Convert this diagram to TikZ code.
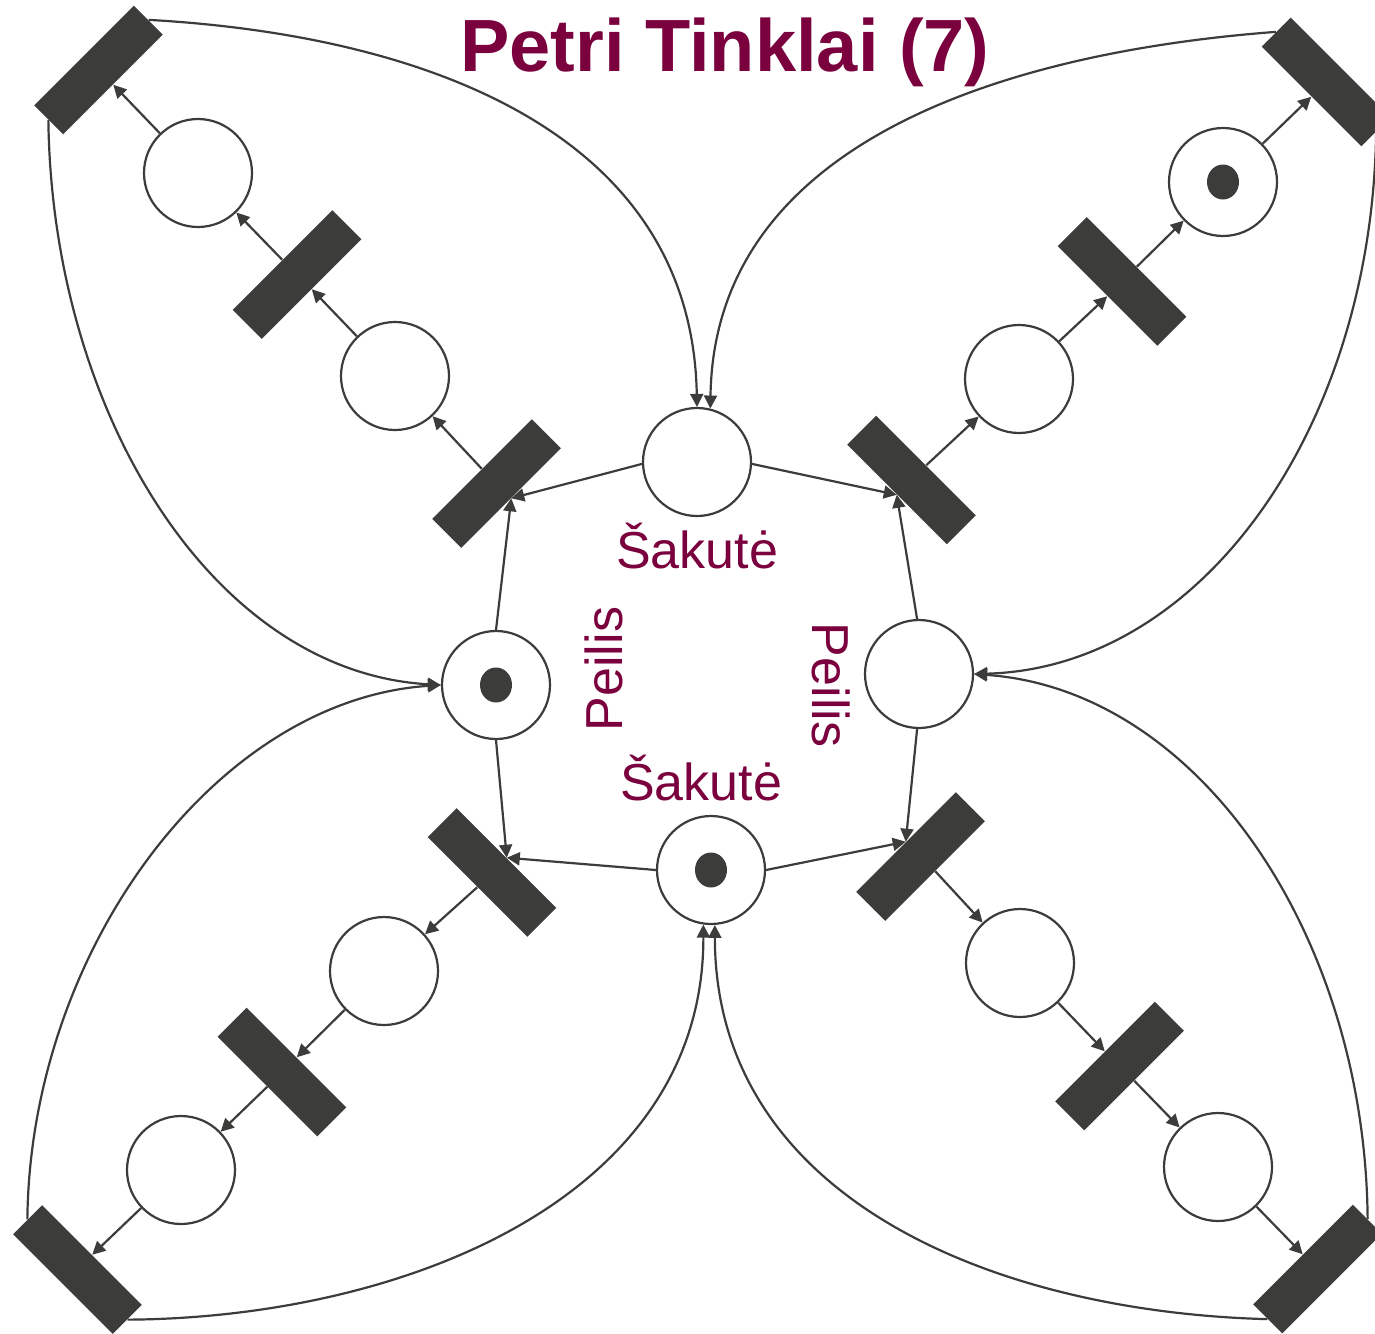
\documentclass[tikz,border=0pt]{standalone}
\usepackage{fontspec}
\setmainfont{Liberation Sans}
\usetikzlibrary{arrows.meta,calc}
\definecolor{ink}{RGB}{60,60,59}
\definecolor{wine}{RGB}{122,0,62}
\begin{document}
\begin{tikzpicture}[x=0.5pt,y=-0.5pt,
  place/.style={circle,draw=ink,line width=1.1pt,minimum size=54pt,inner sep=0pt,fill=white},
  trans/.style={rectangle,fill=ink,minimum width=70.5pt,minimum height=20.5pt,inner sep=0pt},
  arc/.style={draw=ink,line width=1.1pt,-{Triangle[length=6.5pt,width=6.5pt]}},
  lbl/.style={text=wine,font=\fontsize{26}{30}\selectfont,inner sep=0pt},
  tok/.style={fill=ink}]
\useasboundingbox[fill=white] (0,0) rectangle (1375,1333);

% title
\node[text=wine,font=\fontsize{37}{40}\selectfont\bfseries,anchor=base,inner sep=0pt] (title) at (725,71) {Petri Tinklai (7)};

% central places
\node[place] (Ptop) at (697,462) {};
\node[place] (Pleft) at (496,685) {};
\node[place] (Pright) at (919,674) {};
\node[place] (Pbot) at (711,870) {};

% branch places
\node[place] (A1) at (395,376) {};
\node[place] (A2) at (198,173) {};
\node[place] (B1) at (1019,379) {};
\node[place] (B2) at (1223,182) {};
\node[place] (C1) at (384,971) {};
\node[place] (C2) at (181,1170) {};
\node[place] (D1) at (1020,963) {};
\node[place] (D2) at (1218,1167) {};

% transitions
\node[trans,rotate=45] (T1) at (496.5,483.5) {};
\node[trans,rotate=45] (T2) at (297,274.5) {};
\node[trans,rotate=45] (T3) at (98.5,70) {};
\node[trans,rotate=-45] (T4) at (911.5,480) {};
\node[trans,rotate=-45] (T5) at (1122,281.5) {};
\node[trans,rotate=-45] (T6) at (1326,82) {};
\node[trans,rotate=-45] (T7) at (492,872.5) {};
\node[trans,rotate=-45] (T8) at (282,1072) {};
\node[trans,rotate=-45] (T9) at (77.5,1269.5) {};
\node[trans,rotate=45] (T10) at (920.5,856.5) {};
\node[trans,rotate=45] (T11) at (1119.5,1066) {};
\node[trans,rotate=45] (T12) at (1317.5,1269) {};

% tokens
\fill[tok] (Pleft) ellipse [x radius=8pt,y radius=8.75pt];
\fill[tok] (Pbot) ellipse [x radius=8pt,y radius=8.75pt];
\fill[tok] (B2) ellipse [x radius=8pt,y radius=8.75pt];

% central arcs
\draw[arc] (Ptop.182) -- (T1.south);
\draw[arc] (Pleft.90) -- (T1.south);
\draw[arc] (Ptop.358) -- (T4.south);
\draw[arc] (Pright.92) -- (T4.south);
\draw[arc] (Pleft.270) -- (T7.north);
\draw[arc] (Pbot.180) -- (T7.north);
\draw[arc] (Pright.268) -- (T10.north);
\draw[arc] (Pbot.0) -- (T10.north);

% branch arcs
\draw[arc] (T1.north) -- (A1);
\draw[arc] (A1) -- (T2.south);
\draw[arc] (T2.north) -- (A2);
\draw[arc] (A2) -- (T3.south);

\draw[arc] (T4.north) -- (B1);
\draw[arc] (B1) -- (T5.south);
\draw[arc] (T5.north) -- (B2);
\draw[arc] (B2) -- (T6.south);

\draw[arc] (T7.south) -- (C1);
\draw[arc] (C1) -- (T8.north);
\draw[arc] (T8.south) -- (C2);
\draw[arc] (C2) -- (T9.north);

\draw[arc] (T10.south) -- (D1);
\draw[arc] (D1) -- (T11.north);
\draw[arc] (T11.south) -- (D2);
\draw[arc] (D2) -- (T12.north);

% outer return arcs
\draw[arc] (T3.east) .. controls (420,35) and (692,130) .. (Ptop.90);
\draw[arc] (T6.west) .. controls (1010,52) and (714,140) .. (Ptop.76);
\draw[arc] (T3.west) .. controls (52,410) and (211,672) .. (Pleft.west);
\draw[arc] (T9.west) .. controls (30,952) and (215,700) .. (Pleft.west);
\draw[arc] (T6.east) .. controls (1372,425) and (1204,668) .. (Pright.east);
\draw[arc] (T12.east) .. controls (1365,937) and (1200,690) .. (Pright.east);
\draw[arc] (T9.east) .. controls (400,1318) and (704,1200) .. (Pbot.262);
\draw[arc] (T12.west) .. controls (997,1312) and (715,1200) .. (Pbot.274);

% labels
\node[lbl,anchor=base] (s1) at (697,568) {Šakutė};
\node[lbl,anchor=base] (s2) at (701,800) {Šakutė};
\node[lbl,anchor=base,rotate=90] (p1) at (622,669) {Peilis};
\node[lbl,anchor=base,rotate=-90] (p2) at (812,685) {Peilis};
\end{tikzpicture}
\end{document}
